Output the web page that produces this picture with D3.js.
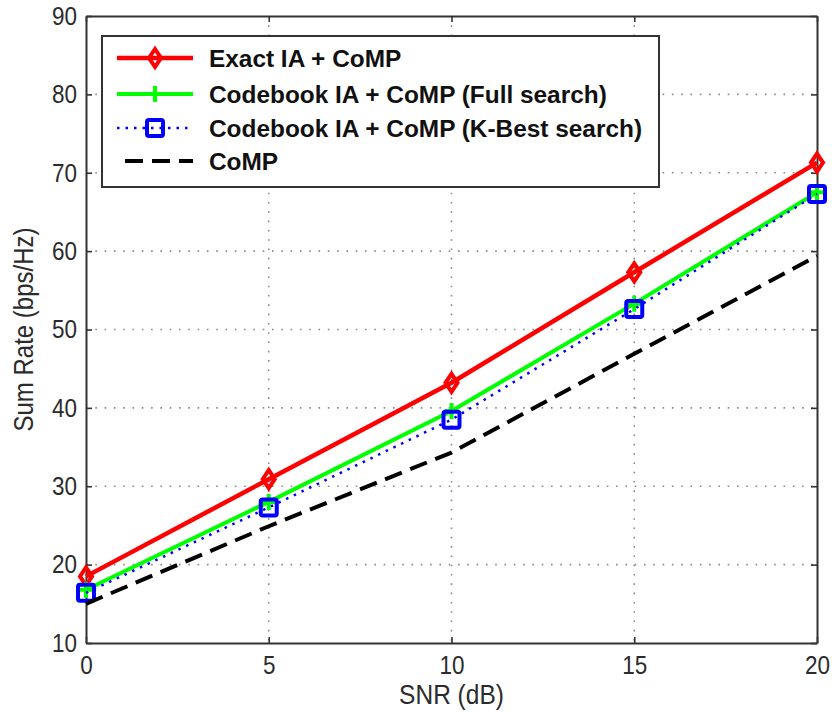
<!DOCTYPE html>
<html>
<head>
<meta charset="utf-8">
<script src="https://cdn.jsdelivr.net/npm/d3@7"></script>
<style>
  html, body { margin: 0; padding: 0; background: #fff; }
  svg { display: block; }
  text { font-family: "Liberation Sans", Arial, sans-serif; }
</style>
</head>
<body>
<svg id="chart" width="832" height="713"></svg>
<script>
// ---- data ----
const snr = [0, 5, 10, 15, 20];
const exactIA = [18.5, 30.9, 43.2, 57.3, 71.3];
const codebookFull = [16.8, 28.0, 39.6, 53.3, 67.5];
const codebookKBest = [16.4, 27.3, 38.5, 52.6, 67.3];
const compOnly = [15.0, 24.9, 34.3, 46.9, 59.4];
const xTicks = [0, 5, 10, 15, 20];
const yTicks = [10, 20, 30, 40, 50, 60, 70, 80, 90];
const legendLabels = ["Exact IA + CoMP", "Codebook IA + CoMP (Full search)", "Codebook IA + CoMP (K-Best search)", "CoMP"];

// ---- layout ----
const svg = d3.select("#chart");
const L = 86, R = 817, T = 16, B = 643;
const x = d3.scaleLinear().domain([0, 20]).range([L, R]);
const y = d3.scaleLinear().domain([10, 90]).range([B, T]);
const axisColor = "#333";
const textColor = "#2b2b2b";
const stretch = 1.12;

// grid
const grid = svg.append("g");
grid.selectAll(".gx").data(xTicks.slice(1, -1)).enter().append("line")
  .attr("x1", d => x(d)).attr("x2", d => x(d)).attr("y1", T).attr("y2", B)
  .attr("stroke", "#8a8a8a").attr("stroke-width", 1.6).attr("stroke-dasharray", "1.6,7.7");
grid.selectAll(".gy").data(yTicks.slice(1, -1)).enter().append("line")
  .attr("y1", d => y(d)).attr("y2", d => y(d)).attr("x1", L).attr("x2", R)
  .attr("stroke", "#8a8a8a").attr("stroke-width", 1.6).attr("stroke-dasharray", "1.6,7.7");

// axes (ticks inward)
const xAxisB = d3.axisBottom(x).tickValues(xTicks).tickSizeInner(-6).tickSizeOuter(0).tickPadding(12);
const yAxisL = d3.axisLeft(y).tickValues(yTicks).tickSizeInner(-6).tickSizeOuter(0).tickPadding(9);
const gx = svg.append("g").attr("transform", `translate(0,${B})`).call(xAxisB);
const gy = svg.append("g").attr("transform", `translate(${L},0)`).call(yAxisL);
const gx2 = svg.append("g").attr("transform", `translate(0,${T})`).call(d3.axisTop(x).tickValues(xTicks).tickSizeInner(-6).tickSizeOuter(0).tickFormat(""));
const gy2 = svg.append("g").attr("transform", `translate(${R},0)`).call(d3.axisRight(y).tickValues(yTicks).tickSizeInner(-6).tickSizeOuter(0).tickFormat(""));
[gx, gy, gx2, gy2].forEach(g => {
  g.selectAll(".domain").attr("stroke", axisColor).attr("stroke-width", 2);
  g.selectAll(".tick line").attr("stroke", axisColor).attr("stroke-width", 1.6);
  g.selectAll("text").attr("fill", textColor).attr("font-size", 22.5)
    .attr("font-family", "Liberation Sans, Arial, sans-serif")
    .attr("transform", `scale(1,${stretch})`);
});
gx.selectAll("text").attr("dy", "0.71em");
gy.selectAll("text").attr("dy", "0.33em");

// axis labels
svg.append("text").attr("transform", `translate(${(L + R) / 2},704) scale(1,${stretch})`).attr("text-anchor", "middle")
  .attr("font-size", 24.5).attr("fill", textColor).text("SNR (dB)");
svg.append("text").attr("transform", `translate(33,${(T + B) / 2}) rotate(-90) scale(1,${stretch})`).attr("text-anchor", "middle")
  .attr("font-size", 24).attr("fill", textColor).text("Sum Rate (bps/Hz)");

// series
const series = [
  { vals: exactIA, color: "#ff0000", width: 4.5, dash: null, marker: "diamond" },
  { vals: codebookFull, color: "#00ff00", width: 4, dash: null, marker: "plus" },
  { vals: codebookKBest, color: "#0000ff", width: 2.5, dash: "2.5,6", marker: "square" },
  { vals: compOnly, color: "#000000", width: 4, dash: "18,9", marker: null }
];
const line = d3.line().x(d => x(d[0])).y(d => y(d[1]));
const plot = svg.append("g");

function drawMarker(g, type, cx, cy, color) {
  if (type === "diamond") {
    g.append("path").attr("d", `M${cx},${cy - 9} L${cx + 6},${cy} L${cx},${cy + 9} L${cx - 6},${cy} Z`)
      .attr("fill", "none").attr("stroke", color).attr("stroke-width", 4);
  } else if (type === "plus") {
    g.append("path").attr("d", `M${cx - 7},${cy} H${cx + 7} M${cx},${cy - 8} V${cy + 8}`)
      .attr("stroke", color).attr("stroke-width", 4);
  } else if (type === "square") {
    g.append("rect").attr("x", cx - 8).attr("y", cy - 8).attr("width", 16).attr("height", 16)
      .attr("rx", 2).attr("fill", "none").attr("stroke", color).attr("stroke-width", 4);
  }
}

series.forEach(s => {
  const pts = snr.map((v, i) => [v, s.vals[i]]);
  plot.append("path").attr("d", line(pts)).attr("fill", "none").attr("stroke", s.color)
    .attr("stroke-width", s.width).attr("stroke-dasharray", s.dash).attr("stroke-linejoin", "round");
  if (s.marker) pts.forEach(p => drawMarker(plot, s.marker, x(p[0]), y(p[1]), s.color));
});

// legend
const lg = svg.append("g");
lg.append("rect").attr("x", 102).attr("y", 36).attr("width", 557).attr("height", 151)
  .attr("fill", "#fff").attr("stroke", axisColor).attr("stroke-width", 2);
const ly = [58, 94, 128, 161];
series.forEach((s, i) => {
  lg.append("line").attr("x1", s.dash === "18,9" ? 125 : 117).attr("x2", 193).attr("y1", ly[i]).attr("y2", ly[i])
    .attr("stroke", s.color).attr("stroke-width", s.width).attr("stroke-dasharray", s.dash);
  if (s.marker) drawMarker(lg, s.marker, 155, ly[i], s.color);
  lg.append("text").attr("x", 209).attr("y", ly[i]).attr("dy", "0.36em")
    .attr("font-size", 24.4).attr("font-weight", "bold").attr("fill", "#111").text(legendLabels[i]);
});
</script>
</body>
</html>
